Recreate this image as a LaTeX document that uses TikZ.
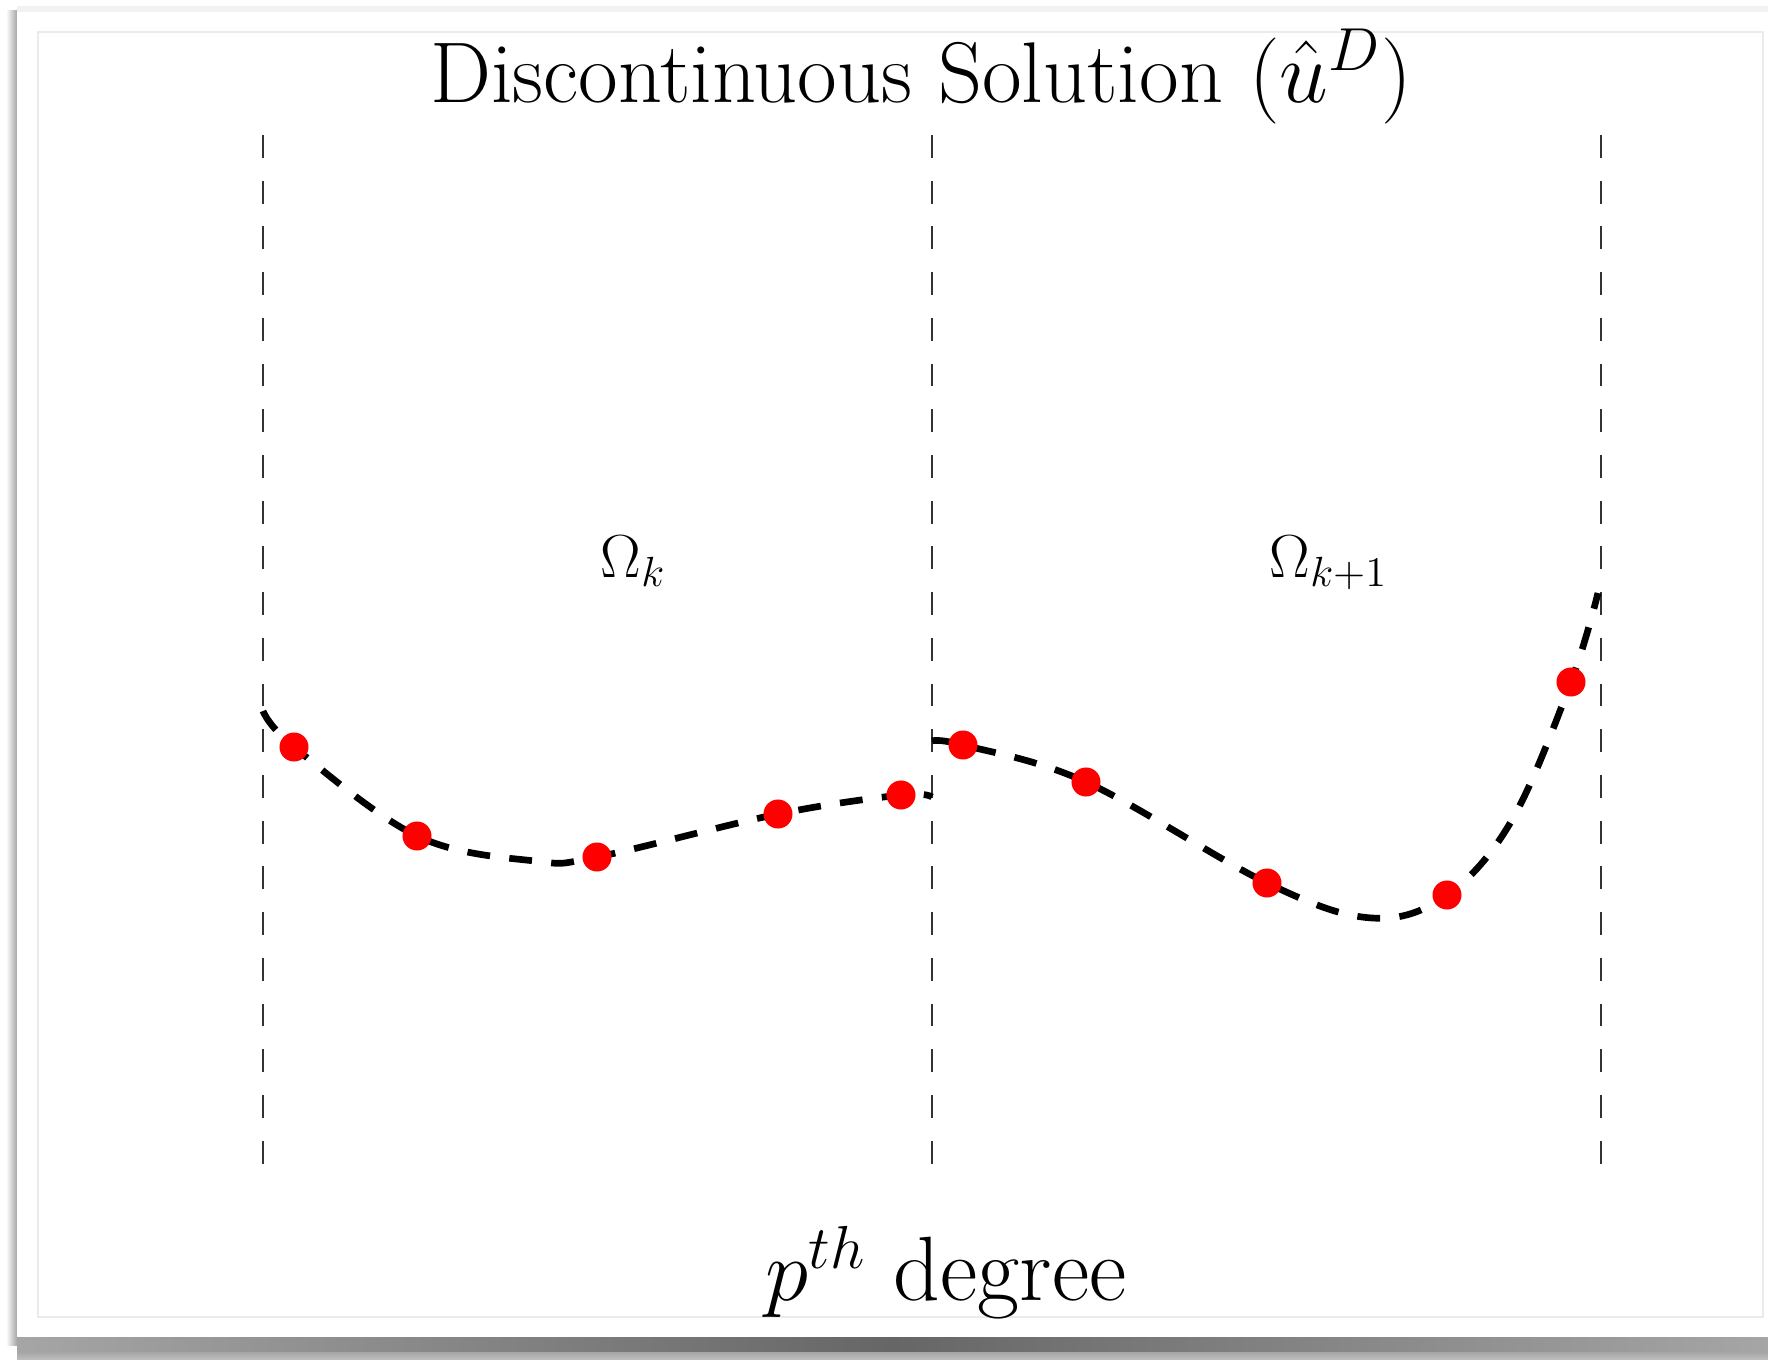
\documentclass[tikz,border=0pt]{standalone}
\usetikzlibrary{calc}
\tikzset{
  sep/.style={line width=0.7pt, black!80, dash pattern=on 6.5pt off 6.5pt},
  sol/.style={line width=1.9pt, black, dash pattern=on 6.5pt off 5.5pt},
  dot/.style={circle, fill=red, draw=none, inner sep=0pt, minimum size=0.29cm},
  lbl/.style={inner sep=0pt, font=\fontsize{17.3}{20}\selectfont},
}
\begin{document}
\begin{tikzpicture}[x=0.01cm, y=-0.01cm]
\useasboundingbox (0,0) rectangle (1768,1360);
% frame / shadow
\fill[white] (0,0) rectangle (1768,1360);
\shade[left color=white, right color=black!35] (6,10) rectangle (17,1345);
\fill[black!5] (17,6) rectangle (1768,13);
\fill[white] (17,12) rectangle (1768,1337);
\shade[left color=black!35, right color=black!35, middle color=black!60] (17,1337) rectangle (1768,1352);
\shade[top color=black!35, bottom color=black!25] (17,1352) rectangle (1768,1360);
\draw[black!8, line width=0.4pt] (38,32) rectangle (1763,1317);
% titles
\node[inner sep=0pt, anchor=base, font=\fontsize{24.5}{28}\selectfont] (title) at (921,102) {Discontinuous Solution ($\hat{u}^D$)};
\node[inner sep=0pt, anchor=base, font=\fontsize{26}{30}\selectfont] (deg) at (946,1300) {$p^{th}$ degree};
% element boundaries
\coordinate (a1) at (263,135); \coordinate (a2) at (263,1178);
\coordinate (b1) at (932,135); \coordinate (b2) at (932,1178);
\coordinate (c1) at (1601,135); \coordinate (c2) at (1601,1178);
\draw[sep] (a1) -- (a2);
\draw[sep] (b1) -- (b2);
\draw[sep] (c1) -- (c2);
% labels
\node[lbl, anchor=base west] (ok) at (600,577) {$\Omega_k$};
\node[lbl, anchor=base west] (okp) at (1269,577) {$\Omega_{k+1}$};
% left solution
\draw[sol] plot[smooth, tension=0.6] coordinates {(263,711) (294,747) (417,836) (535,861) (597,857) (778,814) (901,795) (932,797)};
% right solution
\draw[sol] plot[smooth, tension=0.6] coordinates {(932,741) (963,745) (1086,782) (1267,883) (1372,918) (1447,895) (1512,820) (1571,682) (1598,593)};
% nodal points
\node[dot] (l1) at (294,747) {};
\node[dot] (l2) at (417,836) {};
\node[dot] (l3) at (597,857) {};
\node[dot] (l4) at (778,814) {};
\node[dot] (l5) at (901,795) {};
\node[dot] (r1) at (963,745) {};
\node[dot] (r2) at (1086,782) {};
\node[dot] (r3) at (1267,883) {};
\node[dot] (r4) at (1447,895) {};
\node[dot] (r5) at (1571,682) {};
\end{tikzpicture}
\end{document}
